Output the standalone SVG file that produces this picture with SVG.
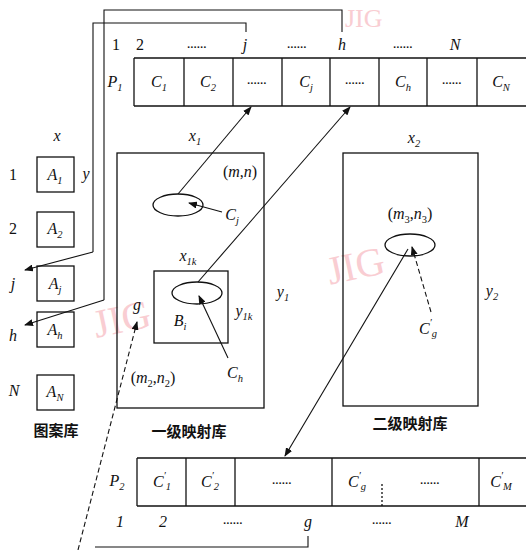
<svg xmlns="http://www.w3.org/2000/svg" width="526" height="550" viewBox="0 0 526 550">
<style>
.t{font-family:"Liberation Serif","DejaVu Serif",serif;font-size:16px;fill:#111}
.i{font-style:italic}
.s{font-size:10.5px}
.d{font-family:"Liberation Serif",serif;font-size:11px;font-weight:bold;fill:#111;letter-spacing:0.5px}
.cn{font-family:"Noto Sans CJK SC","Noto Sans",sans-serif;font-size:15px;font-weight:bold;fill:#111}
.box{fill:none;stroke:#111;stroke-width:1.3}
.ln{fill:none;stroke:#111;stroke-width:1.1}
.dash{fill:none;stroke:#111;stroke-width:1.1;stroke-dasharray:5 3}
.wm{font-family:"Liberation Serif",serif;font-size:40px;fill:#f7b8c0;opacity:0.7}
</style>
<defs>
<marker id="ah" markerWidth="9" markerHeight="7" refX="8" refY="3.5" orient="auto" markerUnits="userSpaceOnUse"><path d="M0,0 L9,3.5 L0,7 z" fill="#111"/></marker>
</defs>

<g id="watermarks">
<text class="wm" x="345" y="27" style="font-size:26px">JIG</text>
<text class="wm" x="325" y="280" transform="rotate(-12 350 258)">JIG</text>
<text class="wm" x="92" y="333" transform="rotate(-12 118 315)">JIG</text>
</g>

<g id="P1">
<line class="box" x1="134" y1="58" x2="526" y2="58"/>
<line class="box" x1="134" y1="106" x2="526" y2="106"/>
<line class="box" x1="134" y1="58" x2="134" y2="106"/>
<line class="box" x1="184" y1="58" x2="184" y2="106"/>
<line class="box" x1="233" y1="58" x2="233" y2="106"/>
<line class="box" x1="282" y1="58" x2="282" y2="106"/>
<line class="box" x1="330" y1="58" x2="330" y2="106"/>
<line class="box" x1="379" y1="58" x2="379" y2="106"/>
<line class="box" x1="427" y1="58" x2="427" y2="106"/>
<line class="box" x1="477" y1="58" x2="477" y2="106"/>
<text class="t i" x="115" y="87" text-anchor="middle">P<tspan class="s" dy="4">1</tspan></text>
<text class="t i" x="159" y="87" text-anchor="middle">C<tspan class="s" dy="4">1</tspan></text>
<text class="t i" x="208" y="87" text-anchor="middle">C<tspan class="s" dy="4">2</tspan></text>
<text class="d" x="257" y="84" text-anchor="middle">......</text>
<text class="t i" x="306" y="87" text-anchor="middle">C<tspan class="s" dy="4">j</tspan></text>
<text class="d" x="355" y="84" text-anchor="middle">......</text>
<text class="t i" x="403" y="87" text-anchor="middle">C<tspan class="s" dy="4">h</tspan></text>
<text class="d" x="452" y="84" text-anchor="middle">......</text>
<text class="t i" x="501" y="87" text-anchor="middle">C<tspan class="s" dy="4">N</tspan></text>
<text class="t" x="116" y="50" text-anchor="middle">1</text>
<text class="t" x="140" y="50" text-anchor="middle">2</text>
<text class="d" x="197" y="48" text-anchor="middle">......</text>
<text class="t i" x="245" y="50" text-anchor="middle">j</text>
<text class="d" x="297" y="48" text-anchor="middle">......</text>
<text class="t i" x="342" y="50" text-anchor="middle">h</text>
<text class="d" x="403" y="48" text-anchor="middle">......</text>
<text class="t i" x="455" y="50" text-anchor="middle">N</text>
</g>

<g id="pattern-library">
<text class="t i" x="57" y="141" text-anchor="middle">x</text>
<text class="t i" x="86" y="179" text-anchor="middle">y</text>
<rect class="box" x="37" y="157" width="37" height="35"/>
<text class="t i" x="55" y="180" text-anchor="middle">A<tspan class="s" dy="4">1</tspan></text>
<text class="t" x="13" y="180" text-anchor="middle">1</text>
<rect class="box" x="37" y="212" width="37" height="35"/>
<text class="t i" x="55" y="234" text-anchor="middle">A<tspan class="s" dy="4">2</tspan></text>
<text class="t" x="13" y="234" text-anchor="middle">2</text>
<rect class="box" x="37" y="266" width="37" height="35"/>
<text class="t i" x="55" y="289" text-anchor="middle">A<tspan class="s" dy="4">j</tspan></text>
<text class="t i" x="13" y="289" text-anchor="middle">j</text>
<rect class="box" x="37" y="312" width="37" height="35"/>
<text class="t i" x="55" y="335" text-anchor="middle">A<tspan class="s" dy="4">h</tspan></text>
<text class="t i" x="13" y="341" text-anchor="middle">h</text>
<rect class="box" x="37" y="375" width="37" height="35"/>
<text class="t i" x="55" y="397" text-anchor="middle">A<tspan class="s" dy="4">N</tspan></text>
<text class="t i" x="14" y="396" text-anchor="middle">N</text>
<text class="cn" x="56" y="436" text-anchor="middle">图案库</text>
</g>

<g id="level1">
<rect class="box" x="117" y="153" width="147" height="255"/>
<text class="t i" x="195" y="141" text-anchor="middle">x<tspan class="s" dy="4">1</tspan></text>
<text class="t" x="240" y="177" text-anchor="middle">(<tspan class="i">m</tspan>,<tspan class="i">n</tspan>)</text>
<ellipse class="box" cx="178" cy="205" rx="25" ry="11"/>
<text class="t i" x="232" y="220" text-anchor="middle">C<tspan class="s" dy="4">j</tspan></text>
<text class="t i" x="188" y="261" text-anchor="middle">x<tspan class="s" dy="4">1k</tspan></text>
<rect class="box" x="154" y="271" width="74" height="72"/>
<ellipse class="box" cx="197" cy="293" rx="25" ry="11"/>
<text class="t i" x="180" y="326" text-anchor="middle">B<tspan class="s" dy="4">i</tspan></text>
<text class="t i" x="244" y="316" text-anchor="middle">y<tspan class="s" dy="4">1k</tspan></text>
<text class="t i" x="235" y="378" text-anchor="middle">C<tspan class="s" dy="4">h</tspan></text>
<text class="t i" x="137" y="310" text-anchor="middle">g</text>
<text class="t" x="153" y="383" text-anchor="middle">(<tspan class="i">m</tspan><tspan class="s" dy="4">2</tspan><tspan dy="-4">,</tspan><tspan class="i">n</tspan><tspan class="s" dy="4">2</tspan><tspan dy="-4">)</tspan></text>
<text class="t i" x="283" y="297" text-anchor="middle">y<tspan class="s" dy="4">1</tspan></text>
<text class="cn" x="189" y="437" text-anchor="middle">一级映射库</text>
</g>

<g id="level2">
<rect class="box" x="343" y="153" width="135" height="253"/>
<text class="t i" x="414" y="143" text-anchor="middle">x<tspan class="s" dy="4">2</tspan></text>
<text class="t" x="410" y="219" text-anchor="middle">(<tspan class="i">m</tspan><tspan class="s" dy="4">3</tspan><tspan dy="-4">,</tspan><tspan class="i">n</tspan><tspan class="s" dy="4">3</tspan><tspan dy="-4">)</tspan></text>
<ellipse class="box" cx="410" cy="245" rx="25" ry="11"/>
<text class="t i" x="428" y="334" text-anchor="middle">C<tspan class="s" dy="-8">′</tspan><tspan class="s" dy="11">g</tspan></text>
<text class="t i" x="492" y="296" text-anchor="middle">y<tspan class="s" dy="4">2</tspan></text>
<text class="cn" x="410" y="429" text-anchor="middle">二级映射库</text>
</g>

<g id="P2">
<line class="box" x1="137" y1="458" x2="526" y2="458"/>
<line class="box" x1="137" y1="506" x2="526" y2="506"/>
<line class="box" x1="137" y1="458" x2="137" y2="506"/>
<line class="box" x1="186" y1="458" x2="186" y2="506"/>
<line class="box" x1="235" y1="458" x2="235" y2="506"/>
<line class="box" x1="332" y1="458" x2="332" y2="506"/>
<line class="box" x1="382" y1="484" x2="382" y2="506" stroke-dasharray="2 2"/>
<line class="box" x1="479" y1="458" x2="479" y2="506"/>
<text class="t i" x="117" y="486" text-anchor="middle">P<tspan class="s" dy="4">2</tspan></text>
<text class="t i" x="162" y="487" text-anchor="middle">C<tspan class="s" dy="-8">′</tspan><tspan class="s" dy="11">1</tspan></text>
<text class="t i" x="210" y="487" text-anchor="middle">C<tspan class="s" dy="-8">′</tspan><tspan class="s" dy="11">2</tspan></text>
<text class="d" x="282" y="484" text-anchor="middle">......</text>
<text class="t i" x="357" y="487" text-anchor="middle">C<tspan class="s" dy="-8">′</tspan><tspan class="s" dy="11">g</tspan></text>
<text class="d" x="430" y="484" text-anchor="middle">......</text>
<text class="t i" x="501" y="487" text-anchor="middle">C<tspan class="s" dy="-8">′</tspan><tspan class="s" dy="11">M</tspan></text>
<text class="t i" x="120" y="527" text-anchor="middle">1</text>
<text class="t i" x="163" y="527" text-anchor="middle">2</text>
<text class="d" x="233" y="524" text-anchor="middle">......</text>
<text class="t i" x="308" y="527" text-anchor="middle">g</text>
<text class="d" x="382" y="524" text-anchor="middle">......</text>
<text class="t i" x="462" y="527" text-anchor="middle">M</text>
</g>

<g id="connectors">
<polyline class="ln" points="246,32 246,23 93,23 93,252" />
<line class="ln" x1="93" y1="252" x2="25" y2="270" marker-end="url(#ah)"/>
<polyline class="ln" points="342,32 342,10 104,10 104,300" />
<line class="ln" x1="104" y1="300" x2="25" y2="325" marker-end="url(#ah)"/>
<line class="ln" x1="178" y1="194" x2="251" y2="107" marker-end="url(#ah)"/>
<line class="ln" x1="198" y1="282" x2="350" y2="107" marker-end="url(#ah)"/>
<line class="ln" x1="222" y1="212" x2="189" y2="203" marker-end="url(#ah)"/>
<line class="ln" x1="228" y1="358" x2="199" y2="296" marker-end="url(#ah)"/>
<line class="dash" x1="431" y1="312" x2="412" y2="247" marker-end="url(#ah)"/>
<line class="ln" x1="408" y1="249" x2="285" y2="456" marker-end="url(#ah)"/>
<line class="dash" x1="78" y1="550" x2="137" y2="322" marker-end="url(#ah)"/>
<polyline class="ln" points="308,536 308,547 95,547" />
</g>
</svg>
